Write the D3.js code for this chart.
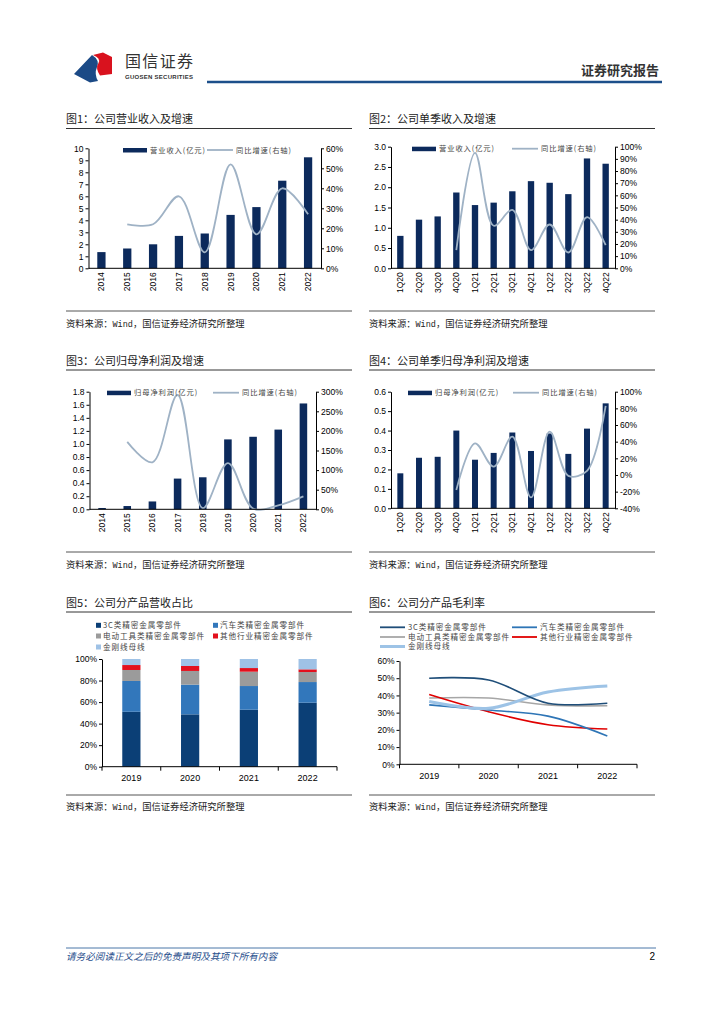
<!DOCTYPE html>
<html>
<head>
<meta charset="utf-8">
<script src="https://cdn.jsdelivr.net/npm/d3@7"></script>
<style>
html, body { margin: 0; padding: 0; background: #fff; }
svg { display: block; }
</style>
</head>
<body>
<div id="page"></div>
<script>
// ---- data ----
const years = ['2014', '2015', '2016', '2017', '2018', '2019', '2020', '2021', '2022'];
const revenue = [1.35, 1.65, 2.0, 2.7, 2.9, 4.45, 5.1, 7.3, 9.25];
const revenueGrowth = [null, 22, 22, 36, 8, 52, 17, 40, 27];
const netProfit = [0.02, 0.05, 0.12, 0.47, 0.49, 1.07, 1.11, 1.22, 1.62];
const netProfitGrowth = [null, 172, 120, 292, 3, 118, 2, 10, 33];

const quarters = ['1Q20', '2Q20', '3Q20', '4Q20', '1Q21', '2Q21', '3Q21', '4Q21', '1Q22', '2Q22', '3Q22', '4Q22'];
const qRevenue = [0.8, 1.2, 1.28, 1.87, 1.56, 1.62, 1.9, 2.15, 2.11, 1.83, 2.71, 2.58];
const qRevenueGrowth = [null, null, null, 15, 95, 35, 48, 15, 36, 13, 42, 19];
const qNetProfit = [0.18, 0.26, 0.265, 0.40, 0.25, 0.285, 0.39, 0.295, 0.385, 0.28, 0.41, 0.54];
const qNetProfitGrowth = [null, null, null, -18, 38, 10, 46, -27, 52, -1, 5, 83];

const segYears = ['2019', '2020', '2021', '2022'];
const segments = ['3C类精密金属零部件', '汽车类精密金属零部件', '电动工具类精密金属零部件', '其他行业精密金属零部件', '金刚线母线'];
const share3C = [51.0, 48.6, 52.9, 59.4];
const shareAuto = [28.6, 27.6, 22.0, 19.2];
const sharePowerTool = [10.2, 12.7, 13.3, 9.3];
const shareOther = [4.6, 4.6, 3.4, 2.5];
const shareWire = [5.6, 6.5, 8.4, 9.6];
const margin3C = [50, 49, 35.5, 35.5];
const marginAuto = [34.5, 31.5, 28, 16.5];
const marginPowerTool = [38.5, 38.5, 34.5, 34];
const marginOther = [40.5, 30.5, 23, 20.5];
const marginWire = [36.5, 32.5, 42, 45.5];

const yearTicks1 = d3.range(0, 11);
const pctTicks1 = d3.range(0, 61, 10);
const qTicks2 = d3.range(0, 7).map(i => i * 0.5);
const pctTicks2 = d3.range(0, 101, 10);
const yearTicks3 = d3.range(0, 10).map(i => i * 0.2);
const pctTicks3 = d3.range(0, 301, 50);
const qTicks4 = d3.range(0, 7).map(i => i * 0.1);
const pctTicks4 = d3.range(-40, 101, 20);

// ---- page ----
const W = 724, H = 1024;
const CJK = '"Noto Sans CJK SC", "Noto Sans", sans-serif';
const NUM = '"Liberation Sans", Arial, sans-serif';
const MONO = '"Liberation Mono", "DejaVu Sans Mono", monospace';
const BAR = '#0c2a5c';
const GROWTH = '#9fb2c5';
const segColors = ['#0b3f76', '#3277bb', '#9b9b9b', '#e3101d', '#9fc2e6'];
const lineColors = ['#1f4e79', '#2e75b6', '#a6a6a6', '#e00000', '#9dc3e6'];

const svg = d3.select('#page').append('svg')
    .attr('width', W).attr('height', H)
    .attr('viewBox', [0, 0, W, H]);
svg.append('rect').attr('width', W).attr('height', H).attr('fill', '#fff');

// header
const logo = svg.append('g');
logo.append('path')
    .attr('d', 'M74,74 L92,55 Q100,60 97,67 Q94,74 98,81 L90,82.5 Z')
    .attr('fill', '#1b4a86');
logo.append('path')
    .attr('d', 'M93,55 L103,52.5 L112,57 L112,74 L100,75.5 Q95,68 98.5,63 Q101,58 93,55 Z')
    .attr('fill', '#d9121e');
svg.append('text').attr('x', 125).attr('y', 67)
    .attr('font-family', CJK).attr('font-size', 16).attr('fill', '#333')
    .attr('textLength', 68).text('国信证券');
svg.append('text').attr('x', 125).attr('y', 79)
    .attr('font-family', NUM).attr('font-size', 6).attr('font-weight', 'bold').attr('fill', '#333')
    .attr('textLength', 68).text('GUOSEN SECURITIES');
svg.append('line').attr('x1', 207).attr('x2', 662).attr('y1', 82).attr('y2', 82)
    .attr('stroke', '#1c4f8a').attr('stroke-width', 2.5);
svg.append('text').attr('x', 659).attr('y', 75).attr('text-anchor', 'end')
    .attr('font-family', CJK).attr('font-size', 13).attr('font-weight', 'bold').attr('fill', '#333')
    .text('证券研究报告');

// footer
svg.append('line').attr('x1', 66).attr('x2', 656).attr('y1', 948).attr('y2', 948)
    .attr('stroke', '#4a76a8').attr('stroke-width', 1);
svg.append('text').attr('x', 66).attr('y', 959.5)
    .attr('font-family', CJK).attr('font-size', 9.6).attr('font-style', 'italic').attr('fill', '#1f4e8c')
    .text('请务必阅读正文之后的免责声明及其项下所有内容');
svg.append('text').attr('x', 655).attr('y', 960).attr('text-anchor', 'end')
    .attr('font-family', NUM).attr('font-size', 10).attr('fill', '#000').text('2');

// panel frames: title, rule under title, source rule and note
function panelFrame(x0, x1, titleY, ruleY, srcRuleY, srcY, title) {
    svg.append('text').attr('x', x0).attr('y', titleY + 4)
        .attr('font-family', CJK).attr('font-size', 11).attr('fill', '#222').text(title);
    svg.append('line').attr('x1', x0).attr('x2', x1).attr('y1', ruleY).attr('y2', ruleY)
        .attr('stroke', '#333').attr('stroke-width', 1);
    svg.append('line').attr('x1', x0).attr('x2', x1).attr('y1', srcRuleY).attr('y2', srcRuleY)
        .attr('stroke', '#555').attr('stroke-width', 1);
    const src = svg.append('text').attr('x', x0).attr('y', srcY + 3.5)
        .attr('font-family', CJK).attr('font-size', 9.3).attr('fill', '#222');
    src.append('tspan').text('资料来源：');
    src.append('tspan').attr('font-family', MONO).attr('font-size', 8.5).text('Wind');
    src.append('tspan').text('，国信证券经济研究所整理');
}

panelFrame(66, 352, 119, 128.5, 311, 323, '图1：公司营业收入及增速');
panelFrame(369, 655, 119, 128.5, 311, 323, '图2：公司单季收入及增速');
panelFrame(66, 352, 361, 370, 552, 564, '图3：公司归母净利润及增速');
panelFrame(369, 655, 361, 370, 552, 564, '图4：公司单季归母净利润及增速');
panelFrame(66, 352, 603, 612, 795, 806, '图5：公司分产品营收占比');
panelFrame(369, 655, 603, 612, 795, 806, '图6：公司分产品毛利率');

function styleAxis(sel) {
    sel.attr('font-family', NUM).attr('font-size', 8.5);
    sel.select('.domain').attr('stroke', '#000').attr('stroke-width', 1);
    sel.selectAll('.tick line').attr('stroke', '#000');
    sel.selectAll('.tick text').attr('fill', '#000');
}

// bars (left axis) + smoothed growth line (right axis)
function comboChart(opt) {
    const g = svg.append('g');
    const x = d3.scaleBand().domain(opt.cats).range([opt.left, opt.right])
        .paddingInner(opt.pad).paddingOuter(opt.pad / 2);
    const yL = d3.scaleLinear().domain(opt.leftDomain).range([opt.bottom, opt.top]);
    const yR = d3.scaleLinear().domain(opt.rightDomain).range([opt.bottom, opt.top]);
    const cx = (c) => x(c) + x.bandwidth() / 2;

    g.append('g').selectAll('rect')
        .data(opt.cats.map((c, i) => ({ c, v: opt.bars[i] })))
        .join('rect')
        .attr('x', (d) => x(d.c))
        .attr('y', (d) => yL(d.v))
        .attr('width', x.bandwidth())
        .attr('height', (d) => opt.bottom - yL(d.v))
        .attr('fill', BAR);

    const line = d3.line()
        .defined((d) => d.v != null)
        .x((d) => cx(d.c))
        .y((d) => yR(d.v))
        .curve(d3.curveCatmullRom.alpha(0.5));
    g.append('path')
        .datum(opt.cats.map((c, i) => ({ c, v: opt.growth[i] })))
        .attr('d', line)
        .attr('fill', 'none')
        .attr('stroke', GROWTH)
        .attr('stroke-width', 1.8);

    g.append('g').attr('transform', `translate(${opt.left},0)`)
        .call(d3.axisLeft(yL).tickValues(opt.leftTicks).tickFormat(opt.leftFmt).tickSize(3).tickSizeOuter(0).tickPadding(2))
        .call(styleAxis);
    g.append('g').attr('transform', `translate(${opt.right},0)`)
        .call(d3.axisRight(yR).tickValues(opt.rightTicks).tickFormat((d) => d + '%').tickSize(3).tickSizeOuter(0).tickPadding(2))
        .call(styleAxis);
    g.append('line').attr('x1', opt.left).attr('x2', opt.right)
        .attr('y1', opt.bottom).attr('y2', opt.bottom).attr('stroke', '#000');

    g.append('g').selectAll('text')
        .data(opt.cats)
        .join('text')
        .attr('transform', (d) => `translate(${cx(d)},${opt.bottom + 4}) rotate(-90)`)
        .attr('dy', '0.35em')
        .attr('text-anchor', 'end')
        .attr('font-family', NUM).attr('font-size', 8.5).attr('fill', '#000')
        .text((d) => d);

    // legend
    const lg = opt.legend;
    g.append('rect').attr('x', lg.barX).attr('y', lg.y - 2).attr('width', 24).attr('height', 4.5).attr('fill', BAR);
    g.append('text').attr('x', lg.barX + 27).attr('y', lg.y + 2.7)
        .attr('font-family', CJK).attr('font-size', 7.3).attr('letter-spacing', 0.9).attr('fill', '#444').text(opt.barLabel);
    g.append('line').attr('x1', lg.lineX).attr('x2', lg.lineX + 26).attr('y1', lg.y).attr('y2', lg.y)
        .attr('stroke', GROWTH).attr('stroke-width', 1.8);
    g.append('text').attr('x', lg.lineX + 29).attr('y', lg.y + 2.7)
        .attr('font-family', CJK).attr('font-size', 7.3).attr('letter-spacing', 0.9).attr('fill', '#444').text('同比增速(右轴)');
}

comboChart({
    cats: years, bars: revenue, growth: revenueGrowth,
    left: 88.5, right: 321, top: 148.3, bottom: 268.3, pad: 0.68,
    leftDomain: [0, 10], leftTicks: yearTicks1, leftFmt: d3.format('d'),
    rightDomain: [0, 60], rightTicks: pctTicks1,
    barLabel: '营业收入(亿元)',
    legend: { barX: 123, lineX: 207, y: 150 }
});

comboChart({
    cats: quarters, bars: qRevenue, growth: qRevenueGrowth,
    left: 391, right: 615, top: 146.7, bottom: 268.3, pad: 0.66,
    leftDomain: [0, 3], leftTicks: qTicks2, leftFmt: d3.format('.1f'),
    rightDomain: [0, 100], rightTicks: pctTicks2,
    barLabel: '营业收入(亿元)',
    legend: { barX: 412, lineX: 512, y: 148.7 }
});

comboChart({
    cats: years, bars: netProfit, growth: netProfitGrowth,
    left: 89.5, right: 316, top: 391.7, bottom: 509.3, pad: 0.7,
    leftDomain: [0, 1.8], leftTicks: yearTicks3, leftFmt: d3.format('.1f'),
    rightDomain: [0, 300], rightTicks: pctTicks3,
    barLabel: '归母净利润(亿元)',
    legend: { barX: 107, lineX: 213, y: 392.7 }
});

comboChart({
    cats: quarters, bars: qNetProfit, growth: qNetProfitGrowth,
    left: 391, right: 615, top: 391.7, bottom: 508.3, pad: 0.68,
    leftDomain: [0, 0.6], leftTicks: qTicks4, leftFmt: d3.format('.1f'),
    rightDomain: [-40, 100], rightTicks: pctTicks4,
    barLabel: '归母净利润(亿元)',
    legend: { barX: 408, lineX: 513, y: 392.7 }
});

// category axis with ticks at band edges (used by the two product charts)
function bandAxis(g, x, left, right, bottom, cats, labelY) {
    g.append('line').attr('x1', left).attr('x2', right).attr('y1', bottom).attr('y2', bottom).attr('stroke', '#000');
    const edges = cats.map((c) => x(c) - x.step() * x.paddingInner() / 2).concat([right]);
    g.append('g').selectAll('line').data(edges).join('line')
        .attr('x1', (d) => d).attr('x2', (d) => d)
        .attr('y1', bottom).attr('y2', bottom + 4).attr('stroke', '#000');
    g.append('g').selectAll('text').data(cats).join('text')
        .attr('x', (d) => x(d) + x.bandwidth() / 2).attr('y', labelY)
        .attr('text-anchor', 'middle')
        .attr('font-family', NUM).attr('font-size', 9).attr('fill', '#000')
        .text((d) => d);
}

// 图5 stacked share
(function () {
    const g = svg.append('g');
    const left = 102, right = 337, top = 659, bottom = 766.7;
    const shares = [share3C, shareAuto, sharePowerTool, shareOther, shareWire];
    const rows = segYears.map((yr, i) => {
        const r = { year: yr };
        segments.forEach((s, k) => { r[s] = shares[k][i]; });
        return r;
    });
    const stack = d3.stack().keys(segments).offset(d3.stackOffsetExpand)(rows);
    const x = d3.scaleBand().domain(segYears).range([left, right]).paddingInner(0.69).paddingOuter(0.345);
    const y = d3.scaleLinear().domain([0, 1]).range([bottom, top]);

    g.append('g').selectAll('g').data(stack).join('g')
        .attr('fill', (d, i) => segColors[i])
        .selectAll('rect').data((d) => d).join('rect')
        .attr('x', (d) => x(d.data.year))
        .attr('y', (d) => y(d[1]))
        .attr('width', x.bandwidth())
        .attr('height', (d) => y(d[0]) - y(d[1]));

    g.append('g').attr('transform', `translate(${left},0)`)
        .call(d3.axisLeft(y).tickValues(d3.range(0, 1.01, 0.2)).tickFormat(d3.format('.0%')).tickSize(3).tickSizeOuter(0).tickPadding(2))
        .call(styleAxis);
    bandAxis(g, x, left, right, bottom, segYears, 781);

    const legendPos = [[96, 625.3], [213, 625.3], [96, 636], [213, 636], [96, 647]];
    segments.forEach((s, i) => {
        g.append('rect').attr('x', legendPos[i][0]).attr('y', legendPos[i][1] - 2.5)
            .attr('width', 5).attr('height', 5).attr('fill', segColors[i]);
        g.append('text').attr('x', legendPos[i][0] + 7).attr('y', legendPos[i][1] + 2.8)
            .attr('font-family', CJK).attr('font-size', 7.6).attr('letter-spacing', 0.9).attr('fill', '#444').text(s);
    });
})();

// 图6 gross margin lines
(function () {
    const g = svg.append('g');
    const left = 399.5, right = 637, top = 661, bottom = 764.3;
    const margins = [margin3C, marginAuto, marginPowerTool, marginOther, marginWire];
    const x = d3.scaleBand().domain(segYears).range([left, right]).paddingInner(0.3).paddingOuter(0.15);
    const y = d3.scaleLinear().domain([0, 60]).range([bottom, top]);
    const line = d3.line()
        .x((d, i) => x(segYears[i]) + x.bandwidth() / 2)
        .y((d) => y(d))
        .curve(d3.curveCatmullRom.alpha(0.5));

    g.append('g').attr('transform', `translate(${left},0)`)
        .call(d3.axisLeft(y).tickValues(d3.range(0, 61, 10)).tickFormat((d) => d + '%').tickSize(3).tickSizeOuter(0).tickPadding(2))
        .call(styleAxis);
    bandAxis(g, x, left, right, bottom, segYears, 779);

    const order = [2, 3, 1, 4, 0];
    order.forEach((k) => {
        g.append('path').datum(margins[k]).attr('d', line)
            .attr('fill', 'none').attr('stroke', lineColors[k])
            .attr('stroke-width', k === 4 ? 3 : 1.6);
    });

    const legendPos = [[380, 627.3], [512, 627.3], [380, 637], [512, 637], [380, 646.5]];
    segments.forEach((s, i) => {
        g.append('line').attr('x1', legendPos[i][0]).attr('x2', legendPos[i][0] + 25)
            .attr('y1', legendPos[i][1]).attr('y2', legendPos[i][1])
            .attr('stroke', lineColors[i]).attr('stroke-width', i === 4 ? 3 : 1.8);
        g.append('text').attr('x', legendPos[i][0] + 28).attr('y', legendPos[i][1] + 2.8)
            .attr('font-family', CJK).attr('font-size', 7.6).attr('letter-spacing', 0.9).attr('fill', '#444').text(s);
    });
})();
</script>
</body>
</html>
